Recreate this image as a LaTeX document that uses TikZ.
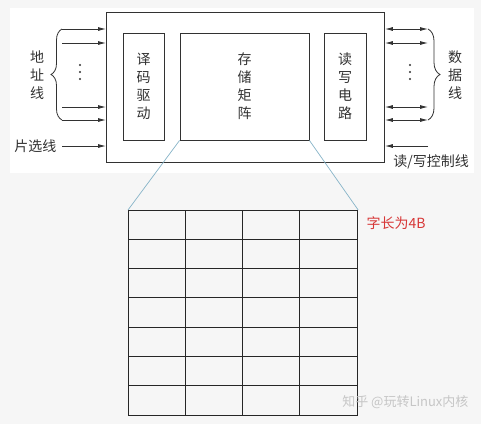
\documentclass[tikz,border=0pt]{standalone}
\usepackage{fontspec}
\newfontfamily\cjk{Noto Sans CJK SC}
\usetikzlibrary{decorations.pathreplacing,positioning,arrows.meta}
\definecolor{lienbleu}{RGB}{135,180,200}
\definecolor{rouge}{RGB}{215,55,55}
\definecolor{encre}{RGB}{50,50,50}

\begin{document}
\begin{tikzpicture}[x=1pt,y=-1pt, font=\cjk\fontsize{14}{18}\selectfont, text=encre,
  boite/.style={draw=encre, line width=0.9pt, align=center, inner sep=0pt},
  fleche/.style={-{Latex[length=8pt,width=4pt]}, line width=0.8pt, draw=encre},
  accolade/.style={decorate, line width=0.8pt, draw=encre},
  point/.style={circle, fill=encre, inner sep=0pt, minimum size=2.2pt}]

% Fond
\fill[gray!7] (0,0) rectangle (481,424);
\fill[white] (10,8) rectangle (474,173);
\useasboundingbox (0,0) rectangle (481,424);

% Boites de la puce
\node[boite, minimum width=278pt, minimum height=150pt, anchor=north west] (puce) at (106,12) {};
\node[boite, minimum width=41pt, minimum height=107pt] (decodeur) at (143.5,86.5) {译\\码\\驱\\动};
\node[boite, minimum width=129pt, minimum height=107pt] (matrice) at (244.5,86.5) {存\\储\\矩\\阵};
\node[boite, minimum width=42pt, minimum height=107pt] (rw) at (345,86.5) {读\\写\\电\\路};

% Lignes d'adresse
\coordinate (a1) at (62,29);
\coordinate (a2) at (62,43);
\coordinate (a3) at (62,107);
\coordinate (a4) at (62,120);
\foreach \a in {a1,a2,a3,a4}
  \draw[fleche] (\a) -- (\a -| puce.west);
\draw[accolade, decoration={brace, amplitude=11pt}] (a4) -- (a1);
\node[align=center] (adresse) at (37,75) {地\\址\\线};
\foreach \y in {65,72,79}
  \node[point] at (80,\y) {};

% Ligne de selection
\coordinate (cs) at (62,146);
\draw[fleche] (cs) -- (cs -| puce.west);
\node[anchor=east] (select) at (60,146) {片选线};

% Lignes de donnees
\coordinate (d1) at (428,29);
\coordinate (d2) at (428,43);
\coordinate (d3) at (428,107);
\coordinate (d4) at (428,120);
\foreach \d in {d1,d2,d3,d4}
  \draw[fleche, {Latex[length=8pt,width=4pt]}-{Latex[length=8pt,width=4pt]}] (\d -| puce.east) -- (\d);
\draw[accolade, decoration={brace, amplitude=12pt}] (d1) -- (d4);
\node[align=center] (donnees) at (455,75) {数\\据\\线};
\foreach \y in {65,72,79}
  \node[point] at (410,\y) {};

% Ligne de controle
\coordinate (rwc) at (428,146);
\draw[fleche] (rwc) -- (rwc -| puce.east);
\node (controle) at (431,162) {读/写控制线};

% Grille de la matrice
\node[draw=black!85, line width=1.2pt, minimum width=229pt, minimum height=205pt, anchor=north west, inner sep=0pt] (grille) at (128,210) {};
\foreach \i in {1,2,3}
  \draw[black!85, line width=1.2pt] (128+57.25*\i,210) -- (128+57.25*\i,415);
\foreach \j in {1,...,6}
  \draw[black!85, line width=1.2pt] (128,210+29.29*\j) -- (357,210+29.29*\j);

% Agrandissement
\draw[lienbleu, line width=0.7pt] (matrice.south west) -- (grille.north west);
\draw[lienbleu, line width=0.7pt] (matrice.south east) -- (grille.north east);

\node[text=rouge, anchor=west] (mot) at (363,223) {字长为4B};
\node[text=gray!45, anchor=east, font=\cjk\fontsize{13}{15}\selectfont] (marque) at (472,402) {知乎 @玩转Linux内核};

\end{tikzpicture}
\end{document}
